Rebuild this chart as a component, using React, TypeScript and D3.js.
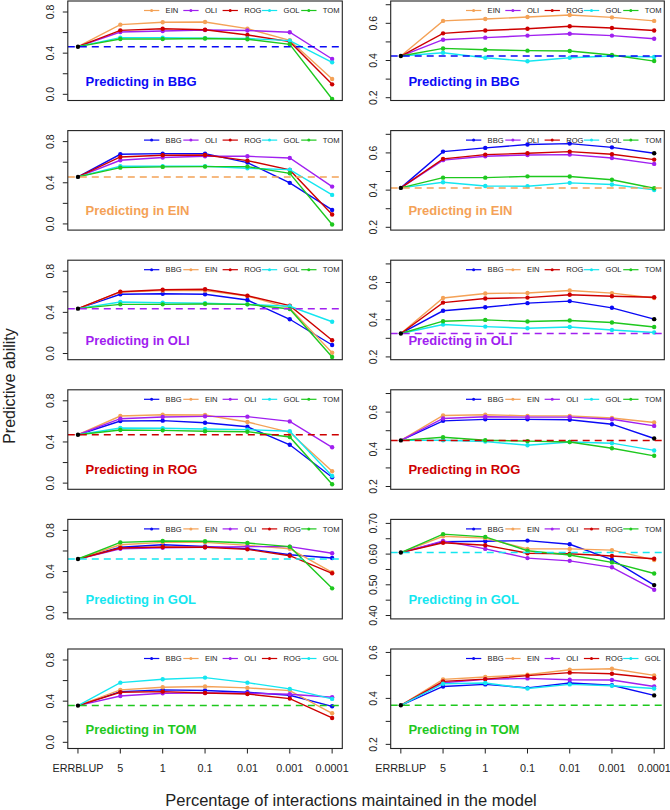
import React from 'react';
import * as d3 from 'd3';

// ---------- data ----------
const populations = ['BBG', 'EIN', 'OLI', 'ROG', 'GOL', 'TOM'];
const xLabels = ['ERRBLUP', '5', '1', '0.1', '0.01', '0.001', '0.0001'];

// ERRBLUP (starting) value per target population
const baselineLeft = [0.463, 0.457, 0.436, 0.47, 0.522, 0.357];
const baselineRight = [0.424, 0.412, 0.326, 0.448, 0.605, 0.37];

// values at 5, 1, 0.1, 0.01, 0.001, 0.0001 for each training population (in legend order)
const leftBBG = [
  [0.677, 0.7, 0.703, 0.638, 0.525, 0.149],
  [0.606, 0.616, 0.625, 0.62, 0.604, 0.343],
  [0.622, 0.638, 0.628, 0.577, 0.512, 0.097],
  [0.551, 0.551, 0.545, 0.542, 0.522, 0.311],
  [0.538, 0.538, 0.542, 0.535, 0.486, -0.045],
];
const leftEIN = [
  [0.677, 0.683, 0.683, 0.596, 0.399, 0.136],
  [0.619, 0.645, 0.657, 0.657, 0.641, 0.363],
  [0.651, 0.667, 0.67, 0.615, 0.525, 0.091],
  [0.56, 0.56, 0.56, 0.541, 0.528, 0.282],
  [0.547, 0.554, 0.557, 0.557, 0.492, -0.006],
];
const leftOLI = [
  [0.576, 0.581, 0.576, 0.52, 0.333, 0.083],
  [0.598, 0.611, 0.611, 0.559, 0.442, 0.008],
  [0.601, 0.62, 0.624, 0.562, 0.465, 0.129],
  [0.501, 0.494, 0.488, 0.478, 0.459, 0.309],
  [0.478, 0.478, 0.481, 0.478, 0.433, -0.034],
];
const leftROG = [
  [0.604, 0.607, 0.587, 0.548, 0.373, 0.057],
  [0.652, 0.665, 0.662, 0.594, 0.494, 0.115],
  [0.626, 0.643, 0.649, 0.646, 0.6, 0.348],
  [0.536, 0.533, 0.526, 0.52, 0.504, 0.069],
  [0.516, 0.513, 0.504, 0.5, 0.448, -0.011],
];
const leftGOL = [
  [0.636, 0.661, 0.645, 0.622, 0.564, 0.532],
  [0.661, 0.684, 0.684, 0.655, 0.622, 0.393],
  [0.622, 0.632, 0.636, 0.642, 0.642, 0.578],
  [0.629, 0.639, 0.636, 0.616, 0.554, 0.383],
  [0.684, 0.697, 0.694, 0.677, 0.642, 0.237],
];
const leftTOM = [
  [0.493, 0.51, 0.503, 0.487, 0.457, 0.35],
  [0.51, 0.535, 0.542, 0.529, 0.503, 0.282],
  [0.45, 0.477, 0.48, 0.477, 0.467, 0.438],
  [0.486, 0.493, 0.48, 0.47, 0.425, 0.237],
  [0.58, 0.613, 0.629, 0.58, 0.519, 0.422],
];
const rightBBG = [
  [0.613, 0.623, 0.634, 0.645, 0.632, 0.613],
  [0.512, 0.523, 0.534, 0.544, 0.534, 0.517],
  [0.546, 0.561, 0.571, 0.584, 0.575, 0.561],
  [0.442, 0.415, 0.396, 0.415, 0.424, 0.419],
  [0.465, 0.458, 0.453, 0.451, 0.43, 0.397],
];
const rightEIN = [
  [0.607, 0.627, 0.645, 0.65, 0.63, 0.598],
  [0.561, 0.582, 0.589, 0.591, 0.573, 0.541],
  [0.568, 0.591, 0.598, 0.607, 0.593, 0.564],
  [0.442, 0.422, 0.421, 0.439, 0.43, 0.401],
  [0.467, 0.467, 0.474, 0.473, 0.456, 0.41],
];
const rightOLI = [
  [0.448, 0.467, 0.489, 0.5, 0.464, 0.403],
  [0.517, 0.541, 0.544, 0.557, 0.543, 0.517],
  [0.492, 0.514, 0.519, 0.534, 0.526, 0.521],
  [0.374, 0.363, 0.354, 0.361, 0.345, 0.331],
  [0.392, 0.399, 0.39, 0.396, 0.385, 0.361],
];
const rightROG = [
  [0.553, 0.561, 0.561, 0.559, 0.535, 0.458],
  [0.582, 0.586, 0.58, 0.58, 0.568, 0.544],
  [0.566, 0.575, 0.573, 0.573, 0.562, 0.526],
  [0.449, 0.442, 0.422, 0.439, 0.433, 0.394],
  [0.465, 0.449, 0.444, 0.439, 0.406, 0.365],
];
const rightGOL = [
  [0.64, 0.642, 0.644, 0.632, 0.582, 0.499],
  [0.658, 0.652, 0.617, 0.617, 0.613, 0.581],
  [0.643, 0.617, 0.587, 0.578, 0.557, 0.484],
  [0.637, 0.629, 0.603, 0.601, 0.594, 0.585],
  [0.665, 0.656, 0.611, 0.597, 0.573, 0.537],
];
const rightTOM = [
  [0.452, 0.461, 0.446, 0.467, 0.457, 0.413],
  [0.483, 0.493, 0.503, 0.525, 0.529, 0.5],
  [0.468, 0.483, 0.487, 0.481, 0.48, 0.452],
  [0.474, 0.484, 0.499, 0.512, 0.507, 0.488],
  [0.464, 0.467, 0.443, 0.461, 0.455, 0.443],
];

const leftPanels = [leftBBG, leftEIN, leftOLI, leftROG, leftGOL, leftTOM];
const rightPanels = [rightBBG, rightEIN, rightOLI, rightROG, rightGOL, rightTOM];

// y-axis settings
const leftTicks = [0, 0.2, 0.4, 0.6, 0.8];
const leftTickLabels = [0, 0.4, 0.8];
const rightTicksA = [0.2, 0.3, 0.4, 0.5, 0.6, 0.7];
const rightTickLabelsA = [0.2, 0.4, 0.6];
const rightTicksGOL = [0.4, 0.45, 0.5, 0.55, 0.6, 0.65, 0.7];
const rightTickLabelsGOL = [0.4, 0.5, 0.6, 0.7];
const rightTicksTOM = [0.2, 0.3, 0.4, 0.5, 0.6];
const rightTickLabelsTOM = [0.2, 0.4, 0.6];

// ---------- style ----------
const colors: Record<string, string> = {
  BBG: '#0a0af5',
  EIN: '#f4a257',
  OLI: '#a020f0',
  ROG: '#cd0000',
  GOL: '#14e6f0',
  TOM: '#1ec81e',
};
const FONT = '"Liberation Sans", Arial, Helvetica, sans-serif';
const W = 670;
const H = 810;
const PANEL_H = 99.5;
const ROW_STEP = 129.6;
const TOP0 = 1;
const cols = [
  { x0: 67.8, x1: 342.3 },
  { x0: 390.7, x1: 664.3 },
];

type PanelProps = {
  col: number;
  row: number;
  values: number[][];
  baseline: number;
  domain: [number, number];
  ticks: number[];
  tickLabels: number[];
  fmt: (v: number) => string;
  showX: boolean;
  blackLastFirst: boolean;
};

function Panel(p: PanelProps) {
  const { x0, x1 } = cols[p.col];
  const top = TOP0 + p.row * ROW_STEP;
  const bottom = top + PANEL_H;
  const target = populations[p.row];
  const others = populations.filter((d) => d !== target);
  const x = d3.scaleLinear().domain([0.76, 7.24]).range([x0, x1]);
  const y = d3.scaleLinear().domain(p.domain).range([bottom, top]);
  const line = d3
    .line<number>()
    .x((_, i) => x(i + 1))
    .y((d) => y(d));

  const legStart = x1 - 198.3;
  const legStep = 39.3;
  const legY = top + 9.5;

  return (
    <g>
      <defs>
        <clipPath id={`clip-${p.col}-${p.row}`}>
          <rect x={x0} y={top} width={x1 - x0} height={PANEL_H} />
        </clipPath>
      </defs>
      {/* series */}
      <g clipPath={`url(#clip-${p.col}-${p.row})`}>
        {p.values.map((vals, si) => {
          const full = [p.baseline, ...vals];
          const c = colors[others[si]];
          return (
            <g key={si}>
              <path d={line(full) || ''} fill="none" stroke={c} strokeWidth={1.4} />
              {full.map((v, i) =>
                i === 0 ? null : (
                  <circle
                    key={i}
                    cx={x(i + 1)}
                    cy={y(v)}
                    r={2.2}
                    fill={
                      p.blackLastFirst && si === 0 && i === full.length - 1 ? '#000' : c
                    }
                  />
                )
              )}
            </g>
          );
        })}
        <line
          x1={x0}
          x2={x1}
          y1={y(p.baseline)}
          y2={y(p.baseline)}
          stroke={colors[target]}
          strokeWidth={1.5}
          strokeDasharray="7,5"
        />
        <circle cx={x(1)} cy={y(p.baseline)} r={2.2} fill="#000" />
      </g>
      {/* legend */}
      {others.map((name, i) => {
        const s = legStart + i * legStep;
        return (
          <g key={name}>
            <line x1={s} x2={s + 15.3} y1={legY} y2={legY} stroke={colors[name]} strokeWidth={1.2} />
            <circle cx={s + 7.6} cy={legY} r={1.5} fill={colors[name]} />
            <text x={s + 21.6} y={legY + 2.7} fontSize={7.6} fill="#222" fontFamily={FONT}>
              {name}
            </text>
          </g>
        );
      })}
      {/* title */}
      <text
        x={x0 + 17.7}
        y={top + 84.5}
        fontSize={13}
        fontWeight="bold"
        fill={colors[target]}
        fontFamily={FONT}
      >
        {`Predicting in ${target}`}
      </text>
      {/* box */}
      <rect x={x0} y={top} width={x1 - x0} height={PANEL_H} fill="none" stroke="#222" strokeWidth={1.1} />
      {/* y axis */}
      {p.ticks.map((t) => (
        <line key={t} x1={x0 - 5} x2={x0} y1={y(t)} y2={y(t)} stroke="#222" strokeWidth={1} />
      ))}
      {p.tickLabels.map((t) => (
        <text
          key={t}
          transform={`translate(${x0 - 13.5},${y(t)}) rotate(-90)`}
          textAnchor="middle"
          fontSize={10.5}
          fill="#222"
          fontFamily={FONT}
        >
          {p.fmt(t)}
        </text>
      ))}
      {/* x axis */}
      {p.showX &&
        xLabels.map((lab, i) => (
          <g key={lab}>
            <line x1={x(i + 1)} x2={x(i + 1)} y1={bottom} y2={bottom + 5} stroke="#222" strokeWidth={1} />
            <text
              x={x(i + 1)}
              y={772}
              textAnchor="middle"
              fontSize={10.8}
              fill="#222"
              fontFamily={FONT}
            >
              {lab}
            </text>
          </g>
        ))}
    </g>
  );
}

export default function App() {
  const f1 = d3.format('.1f');
  const f2 = d3.format('.2f');
  return (
    <svg
      width={W}
      height={H}
      style={{ position: 'absolute', left: 0, top: 0, background: '#fff' }}
      xmlns="http://www.w3.org/2000/svg"
    >
      <rect x={0} y={0} width={W} height={H} fill="#fff" />
      {leftPanels.map((vals, r) => (
        <Panel
          key={`l${r}`}
          col={0}
          row={r}
          values={vals}
          baseline={baselineLeft[r]}
          domain={[-0.06, 0.907]}
          ticks={leftTicks}
          tickLabels={leftTickLabels}
          fmt={f1}
          showX={r === 5}
          blackLastFirst={false}
        />
      ))}
      {rightPanels.map((vals, r) => {
        const domain: [number, number] =
          r === 4 ? [0.389, 0.713] : r === 5 ? [0.182, 0.615] : [0.185, 0.72];
        const ticks = r === 4 ? rightTicksGOL : r === 5 ? rightTicksTOM : rightTicksA;
        const labels = r === 4 ? rightTickLabelsGOL : r === 5 ? rightTickLabelsTOM : rightTickLabelsA;
        return (
          <Panel
            key={`r${r}`}
            col={1}
            row={r}
            values={vals}
            baseline={baselineRight[r]}
            domain={domain}
            ticks={ticks}
            tickLabels={labels}
            fmt={r === 4 ? f2 : f1}
            showX={r === 5}
            blackLastFirst={r > 0}
          />
        );
      })}
      <text
        transform="translate(14.5,386) rotate(-90)"
        textAnchor="middle"
        fontSize={16}
        fill="#222"
        fontFamily={FONT}
      >
        Predictive ability
      </text>
      <text x={351} y={806} textAnchor="middle" fontSize={16.5} fill="#222" fontFamily={FONT}>
        Percentage of interactions maintained in the model
      </text>
    </svg>
  );
}
